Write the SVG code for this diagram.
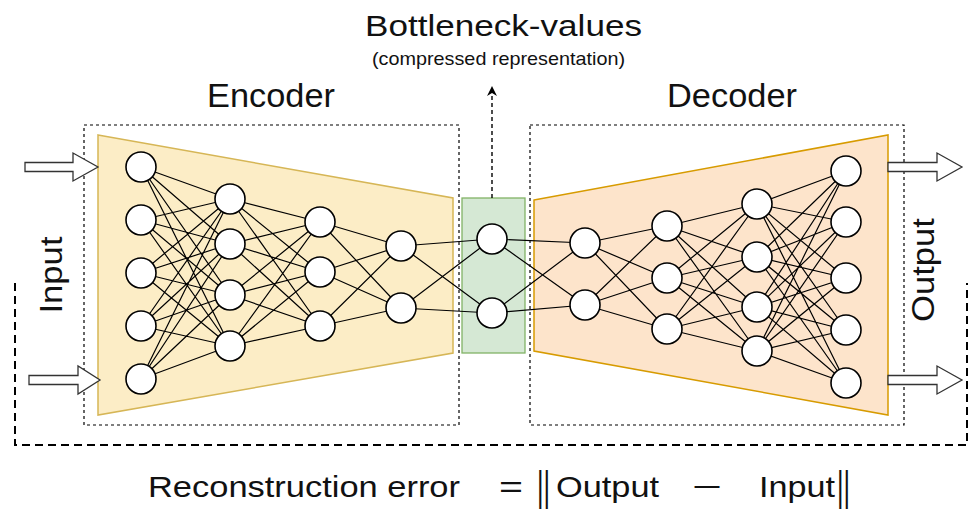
<svg xmlns="http://www.w3.org/2000/svg" width="971" height="509" viewBox="0 0 971 509">
<defs>
<style>
text{font-family:"Liberation Sans",Arial,Helvetica,sans-serif;fill:#111}
.box{fill:none;stroke:#000;stroke-width:1.2;stroke-dasharray:3 3}
.n{fill:#fff;stroke:#000;stroke-width:1.6}
.w{fill:none;stroke:#000;stroke-width:1.2}
.blk{fill:#fff;stroke:#333;stroke-width:1.3;stroke-linejoin:miter}
.bar{font-size:42px}
</style>
<marker id="ah" viewBox="0 0 10 10" refX="10" refY="5" markerWidth="10" markerHeight="10" markerUnits="userSpaceOnUse" orient="auto">
<path d="M0,0 L10,5 L0,10 L3,5 z" fill="#000"/>
</marker>
</defs>
<rect width="971" height="509" fill="#fff"/>

<g id="titles">
<text x="365" y="36" font-size="30" textLength="277" lengthAdjust="spacingAndGlyphs">Bottleneck-values</text>
<text x="372" y="65" font-size="19" textLength="253" lengthAdjust="spacingAndGlyphs">(compressed representation)</text>
<text x="207" y="107" font-size="33" textLength="128" lengthAdjust="spacingAndGlyphs">Encoder</text>
<text x="667" y="107" font-size="33" textLength="130" lengthAdjust="spacingAndGlyphs">Decoder</text>
</g>

<g id="encoder-block">
<rect class="box" x="84" y="125" width="375" height="300"/>
<polygon points="98,135 453,198 453,353 98,415" fill="#fcedc6" stroke="#d6b656" stroke-width="1.5"/>
</g>
<g id="decoder-block">
<rect class="box" x="530" y="125" width="374" height="300"/>
<polygon points="534,200 888,135 888,415 534,351" fill="#fde4cb" stroke="#d79b00" stroke-width="1.5"/>
</g>
<g id="bottleneck-block">
<rect x="462" y="198" width="63" height="155" fill="#d5e8d4" stroke="#82b366" stroke-width="1.3"/>
</g>

<g id="connectors">
<path class="w" d="M141 167L230 199M141 167L230 244M141 167L230 295M141 167L230 346M141 220L230 199M141 220L230 244M141 220L230 295M141 220L230 346M141 273L230 199M141 273L230 244M141 273L230 295M141 273L230 346M141 326L230 199M141 326L230 244M141 326L230 295M141 326L230 346M141 379L230 199M141 379L230 244M141 379L230 295M141 379L230 346"/>
<path class="w" d="M230 199L320 222M230 199L320 272M230 199L320 326M230 244L320 222M230 244L320 272M230 244L320 326M230 295L320 222M230 295L320 272M230 295L320 326M230 346L320 222M230 346L320 272M230 346L320 326"/>
<path class="w" d="M320 222L401 246M320 222L401 308M320 272L401 246M320 272L401 308M320 326L401 246M320 326L401 308"/>
<path class="w" d="M401 246L492 239M401 246L492 313M401 308L492 239M401 308L492 313"/>
<path class="w" d="M492 239L585 243M492 239L585 305M492 313L585 243M492 313L585 305"/>
<path class="w" d="M585 243L667 226M585 243L667 278M585 243L667 329M585 305L667 226M585 305L667 278M585 305L667 329"/>
<path class="w" d="M667 226L757 204M667 226L757 257M667 226L757 307M667 226L757 351M667 278L757 204M667 278L757 257M667 278L757 307M667 278L757 351M667 329L757 204M667 329L757 257M667 329L757 307M667 329L757 351"/>
<path class="w" d="M757 204L846 171M757 204L846 222M757 204L846 278M757 204L846 330M757 204L846 383M757 257L846 171M757 257L846 222M757 257L846 278M757 257L846 330M757 257L846 383M757 307L846 171M757 307L846 222M757 307L846 278M757 307L846 330M757 307L846 383M757 351L846 171M757 351L846 222M757 351L846 278M757 351L846 330M757 351L846 383"/>
<line x1="492" y1="198" x2="492" y2="86" stroke="#000" stroke-width="1.4" stroke-dasharray="4 3" marker-end="url(#ah)"/>
<path d="M15 283V445H967V283" fill="none" stroke="#000" stroke-width="2" stroke-dasharray="8 5"/>
<polygon class="blk" points="25,162.5 73,162.5 73,153 98,167 73,181 73,171.5 25,171.5"/>
<polygon class="blk" points="29,375.5 78,375.5 78,366 100,380 78,394 78,384.5 29,384.5"/>
<polygon class="blk" points="888,162.5 937,162.5 937,153 962,167 937,181 937,171.5 888,171.5"/>
<polygon class="blk" points="888,375.5 937,375.5 937,366 962,380 937,394 937,384.5 888,384.5"/>
</g>

<g id="enc-layer1">
<circle id="e1a" class="n" cx="141" cy="167" r="15"/>
<circle id="e1b" class="n" cx="141" cy="220" r="15"/>
<circle id="e1c" class="n" cx="141" cy="273" r="15"/>
<circle id="e1d" class="n" cx="141" cy="326" r="15"/>
<circle id="e1e" class="n" cx="141" cy="379" r="15"/>
</g>
<g id="enc-layer2">
<circle id="e2a" class="n" cx="230" cy="199" r="15"/>
<circle id="e2b" class="n" cx="230" cy="244" r="15"/>
<circle id="e2c" class="n" cx="230" cy="295" r="15"/>
<circle id="e2d" class="n" cx="230" cy="346" r="15"/>
</g>
<g id="enc-layer3">
<circle id="e3a" class="n" cx="320" cy="222" r="15"/>
<circle id="e3b" class="n" cx="320" cy="272" r="15"/>
<circle id="e3c" class="n" cx="320" cy="326" r="15"/>
</g>
<g id="enc-layer4">
<circle id="e4a" class="n" cx="401" cy="246" r="15"/>
<circle id="e4b" class="n" cx="401" cy="308" r="15"/>
</g>
<g id="bottleneck">
<circle id="ba" class="n" cx="492" cy="239" r="15"/>
<circle id="bb" class="n" cx="492" cy="313" r="15"/>
</g>
<g id="dec-layer1">
<circle id="d1a" class="n" cx="585" cy="243" r="15"/>
<circle id="d1b" class="n" cx="585" cy="305" r="15"/>
</g>
<g id="dec-layer2">
<circle id="d2a" class="n" cx="667" cy="226" r="15"/>
<circle id="d2b" class="n" cx="667" cy="278" r="15"/>
<circle id="d2c" class="n" cx="667" cy="329" r="15"/>
</g>
<g id="dec-layer3">
<circle id="d3a" class="n" cx="757" cy="204" r="15"/>
<circle id="d3b" class="n" cx="757" cy="257" r="15"/>
<circle id="d3c" class="n" cx="757" cy="307" r="15"/>
<circle id="d3d" class="n" cx="757" cy="351" r="15"/>
</g>
<g id="dec-layer4">
<circle id="d4a" class="n" cx="846" cy="171" r="15"/>
<circle id="d4b" class="n" cx="846" cy="222" r="15"/>
<circle id="d4c" class="n" cx="846" cy="278" r="15"/>
<circle id="d4d" class="n" cx="846" cy="330" r="15"/>
<circle id="d4e" class="n" cx="846" cy="383" r="15"/>
</g>

<g id="side-labels">
<text transform="translate(62,275) rotate(-90)" text-anchor="middle" font-size="31" textLength="77" lengthAdjust="spacingAndGlyphs">Input</text>
<text transform="translate(934,270) rotate(-90)" text-anchor="middle" font-size="31" textLength="104" lengthAdjust="spacingAndGlyphs">Output</text>
</g>

<g id="formula">
<text x="148" y="497" font-size="30" textLength="312" lengthAdjust="spacingAndGlyphs">Reconstruction error</text>
<text x="499" y="497" font-size="30" textLength="24" lengthAdjust="spacingAndGlyphs">=</text>
<text class="bar" transform="translate(537,501) scale(0.6,1)">||</text>
<text x="556" y="497" font-size="30" textLength="103" lengthAdjust="spacingAndGlyphs">Output</text>
<text x="692" y="497" font-size="30" textLength="30" lengthAdjust="spacingAndGlyphs">−</text>
<text x="759" y="497" font-size="30" textLength="76" lengthAdjust="spacingAndGlyphs">Input</text>
<text class="bar" transform="translate(837,501) scale(0.6,1)">||</text>
</g>
</svg>
